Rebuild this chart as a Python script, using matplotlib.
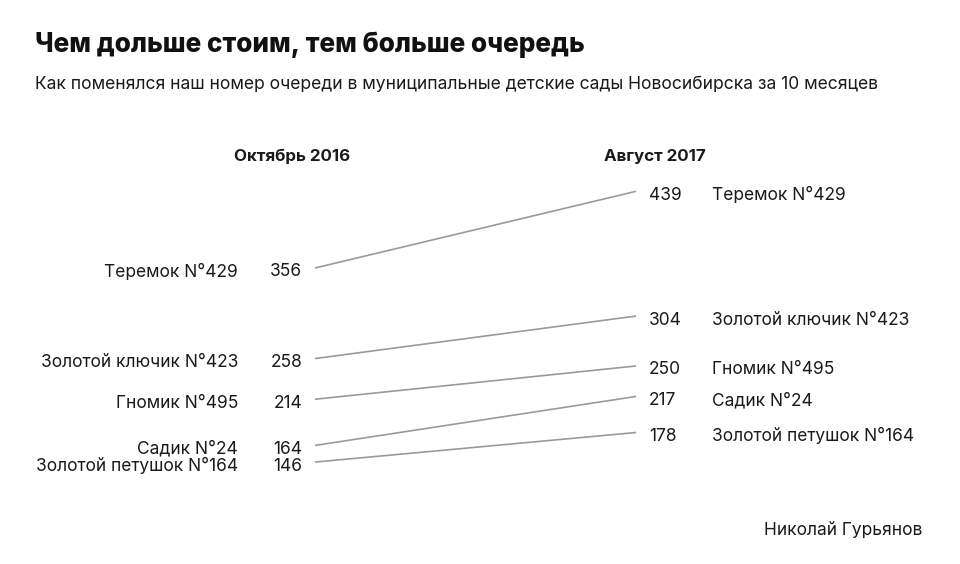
import matplotlib
matplotlib.use("Agg")
import matplotlib.pyplot as plt

names = ["Теремок N°429", "Золотой ключик N°423", "Гномик N°495", "Садик N°24", "Золотой петушок N°164"]
oct2016 = [356, 258, 214, 164, 146]
aug2017 = [439, 304, 250, 217, 178]
periods = ["Октябрь 2016", "Август 2017"]

plt.rcParams['font.family'] = ['Inter', 'DejaVu Sans']

fig = plt.figure(figsize=(9.6, 5.64), dpi=100)
fig.patch.set_facecolor("white")
ax = fig.add_axes([0, 0, 1, 1])
ax.set_xlim(-0.981, 2.009)
ax.set_ylim(35.7, 646)
ax.axis("off")

txt = "#1a1a1a"
dy = -4.3  # text sits slightly below the line ends
fs = 12.5
for n, a, b in zip(names, oct2016, aug2017):
    ax.plot([0, 1], [a, b], color="#9a9a9a", lw=1.2, solid_capstyle="butt")
    ax.text(-0.04, a + dy, str(a), ha="right", va="center", fontsize=fs, color=txt)
    ax.text(-0.24, a + dy, n, ha="right", va="center", fontsize=fs, color=txt)
    ax.text(1.04, b + dy, str(b), ha="left", va="center", fontsize=fs, color=txt)
    ax.text(1.236, b + dy, n, ha="left", va="center", fontsize=fs, color=txt)

ax.text(-0.07, 477, periods[0], ha="center", va="center", fontsize=12.2, fontweight="bold", color=txt)
ax.text(1.06, 477, periods[1], ha="center", va="center", fontsize=12.2, fontweight="bold", color=txt)

fig.text(35/960, 1 - 45/564, "Чем дольше стоим, тем больше очередь", ha="left", va="center",
         fontsize=18.8, fontweight="heavy", color="#111111")
fig.text(35/960, 1 - 84/564, "Как поменялся наш номер очереди в муниципальные детские сады Новосибирска за 10 месяцев",
         ha="left", va="center", fontsize=12.6, color=txt)
fig.text(922/960, 1 - 531/564, "Николай Гурьянов", ha="right", va="center", fontsize=12.5, color=txt)

fig.savefig("out.png", dpi=100, facecolor="white")
